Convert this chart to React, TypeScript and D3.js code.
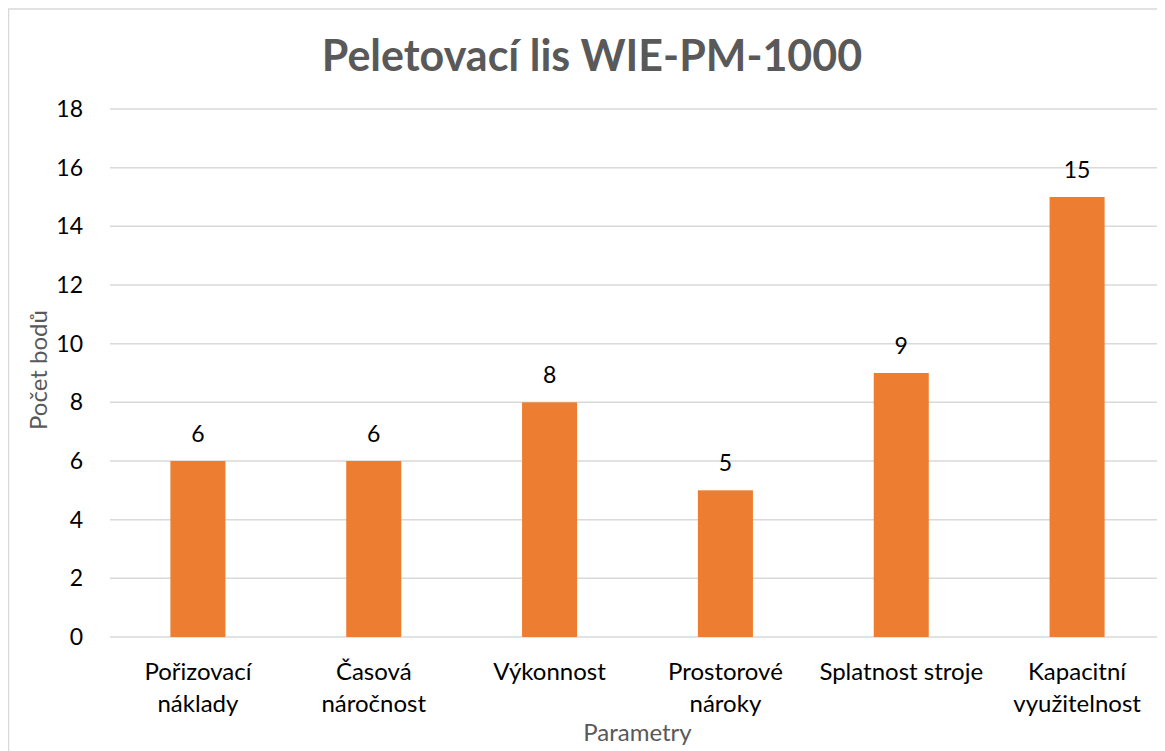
import * as d3 from 'd3';

const categories = [
  ['Pořizovací', 'náklady'],
  ['Časová', 'náročnost'],
  ['Výkonnost'],
  ['Prostorové', 'nároky'],
  ['Splatnost stroje'],
  ['Kapacitní', 'využitelnost'],
];
const values = [6, 6, 8, 5, 9, 15];
const yTicks = [0, 2, 4, 6, 8, 10, 12, 14, 16, 18];

const W = 1157;
const H = 743;
const PLOT = { left: 102, right: 1157, top: 101, bottom: 629 };
const FONT = "Lato, 'Open Sans', sans-serif";
const C = {
  bar: '#ED7D31',
  grid: '#D9D9D9',
  text: '#000000',
  title: '#595959',
};

export default function App() {
  const x = d3.scaleBand<number>()
    .domain(d3.range(categories.length))
    .range([PLOT.left, PLOT.right])
    .paddingInner(0.687)
    .paddingOuter(0.3435);
  const y = d3.scaleLinear().domain([0, 18]).range([PLOT.bottom, PLOT.top]);

  return (
    <svg width={W} height={H} style={{ display: 'block', fontFamily: FONT }}>
      <rect x={0.5} y={1} width={W + 20} height={H + 20} fill="#fff" stroke={C.grid} strokeWidth={1.5} />

      <text x={584} y={63} textAnchor="middle" fontSize={43} fontWeight="bold" fill={C.title}>
        Peletovací lis WIE-PM-1000
      </text>

      {yTicks.map((t) => (
        <g key={t}>
          <line x1={PLOT.left} x2={PLOT.right} y1={y(t)} y2={y(t)} stroke={C.grid} strokeWidth={1.5} />
          <text x={75} y={y(t)} dy="0.35em" textAnchor="end" fontSize={23} fill={C.text}>{t}</text>
        </g>
      ))}

      {values.map((v, i) => (
        <g key={i}>
          <rect x={x(i)} y={y(v)} width={x.bandwidth()} height={y(0) - y(v)} fill={C.bar} />
          <text x={(x(i) ?? 0) + x.bandwidth() / 2} y={y(v) - 19} textAnchor="middle" fontSize={23} fill={C.text}>{v}</text>
          {categories[i].map((line, j) => (
            <text key={j} x={(x(i) ?? 0) + x.bandwidth() / 2} y={672 + j * 32} textAnchor="middle" fontSize={24} fill={C.text}>
              {line}
            </text>
          ))}
        </g>
      ))}

      <text transform={`translate(39,362) rotate(-90)`} textAnchor="middle" fontSize={24} fill={C.title}>
        Počet bodů
      </text>
      <text x={(PLOT.left + PLOT.right) / 2} y={733} textAnchor="middle" fontSize={24} fill={C.title}>
        Parametry
      </text>
    </svg>
  );
}
